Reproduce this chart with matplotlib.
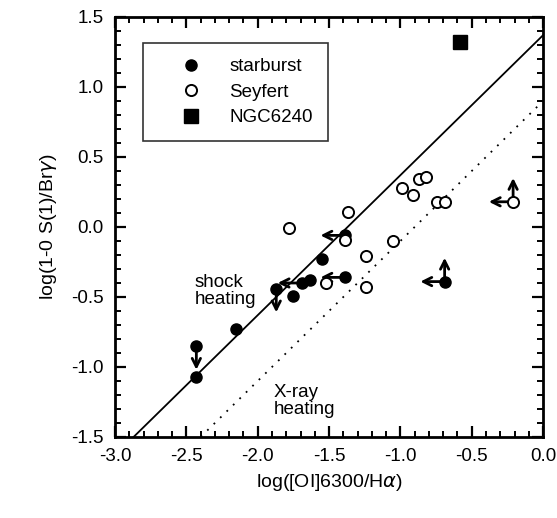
import matplotlib
matplotlib.use("Agg")
import matplotlib.pyplot as plt
import numpy as np
from matplotlib.ticker import MultipleLocator

plt.rcParams['font.family'] = ['Liberation Sans', 'DejaVu Sans']

# Starburst galaxies (filled circles)
sb_x = [-2.43, -2.43, -2.15, -1.87, -1.75, -1.69, -1.63, -1.55, -1.39, -1.39, -0.69]
sb_y = [-1.07, -0.85, -0.73, -0.44, -0.49, -0.40, -0.38, -0.23, -0.06, -0.36, -0.39]
# limit flags: 'L' = arrow left, 'D' = arrow down, 'U' = arrow up
sb_lim = ['', 'D', '', 'D', '', 'L', '', '', 'L', 'L', 'LU']

# Seyfert galaxies (open circles)
sy_x = [-1.78, -1.37, -1.39, -1.52, -1.24, -1.24, -1.05, -0.99, -0.91, -0.87, -0.82, -0.74, -0.69, -0.21]
sy_y = [-0.01, 0.11, -0.09, -0.40, -0.21, -0.43, -0.10, 0.28, 0.23, 0.34, 0.36, 0.18, 0.18, 0.18]
sy_lim = ['', '', '', '', '', '', '', '', '', '', '', '', '', 'LU']

# NGC6240
ngc_x = [-0.58]
ngc_y = [1.32]

# relations: y = x + offset
shock_offset = 1.37
xray_offset = 0.90

fig = plt.figure(figsize=(5.57, 5.18), dpi=100)
ax = fig.add_axes([0.2065, 0.1564, 0.7685, 0.8108])

xl = np.array([-3.0, 0.0])
ax.plot(xl, xl + shock_offset, color='black', lw=1.3, zorder=1)
ax.plot(xl, xl + xray_offset, color='black', lw=1.3, ls=(0, (1, 4)), zorder=1)

ax.plot(sb_x, sb_y, 'o', color='black', ms=8, zorder=3, label='starburst')
ax.plot(sy_x, sy_y, 'o', mfc='white', mec='black', mew=1.4, ms=8, zorder=3, label='Seyfert')
ax.plot(ngc_x, ngc_y, 's', color='black', ms=9.5, zorder=3, label='NGC6240')

L = 0.17
def draw_limits(xs, ys, lims):
    for x, y, f in zip(xs, ys, lims):
        for c in f:
            dx, dy = {'L': (-L, 0), 'D': (0, -L), 'U': (0, L)}[c]
            ax.annotate('', xy=(x + dx, y + dy), xytext=(x, y),
                        arrowprops=dict(arrowstyle='->,head_length=0.6,head_width=0.3',
                                        color='black', lw=2.0, shrinkA=0, shrinkB=0),
                        zorder=2)

draw_limits(sb_x, sb_y, sb_lim)
draw_limits(sy_x, sy_y, sy_lim)

ax.text(-2.44, -0.46, 'shock\nheating', fontsize=13.5, va='center', ha='left', linespacing=1.0)
ax.text(-1.89, -1.24, 'X-ray\nheating', fontsize=13.5, va='center', ha='left', linespacing=1.0)

ax.set_xlim(-3.0, 0.0)
ax.set_ylim(-1.5, 1.5)
ax.xaxis.set_major_locator(MultipleLocator(0.5))
ax.xaxis.set_minor_locator(MultipleLocator(0.1))
ax.yaxis.set_major_locator(MultipleLocator(0.5))
ax.yaxis.set_minor_locator(MultipleLocator(0.1))
ax.xaxis.set_major_formatter(plt.FormatStrFormatter('%.1f'))
ax.yaxis.set_major_formatter(plt.FormatStrFormatter('%.1f'))
ax.tick_params(which='both', direction='in', top=True, right=True, labelsize=13.5, pad=8)
ax.tick_params(which='major', length=8, width=1.6)
ax.tick_params(which='minor', length=4, width=1.4)
for s in ax.spines.values():
    s.set_linewidth(2)

ax.set_xlabel('log([OI]6300/H$\\alpha$)', fontsize=14, labelpad=5)
ax.set_ylabel('log(1-0 S(1)/Br$\\gamma$)', fontsize=14, labelpad=9)

leg = ax.legend(loc='upper left', bbox_to_anchor=(0.065, 0.938), borderaxespad=0,
                frameon=True, fancybox=False,
                edgecolor='black', fontsize=13.5, handletextpad=0.3, borderpad=0.8,
                labelspacing=0.45, handlelength=3.5)
leg.get_frame().set_linewidth(1.2)

fig.savefig('out.png', dpi=100)
